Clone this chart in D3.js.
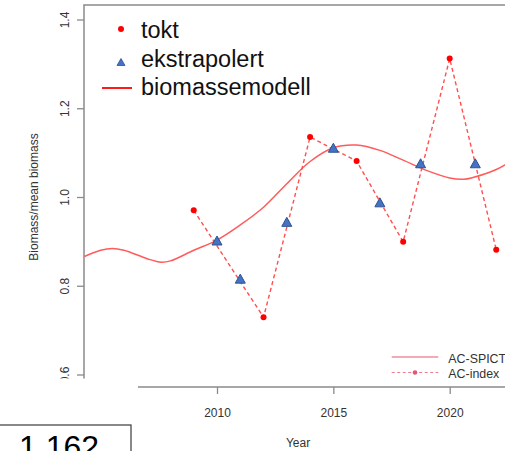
<!DOCTYPE html>
<html>
<head>
<meta charset="utf-8">
<script src="https://cdn.jsdelivr.net/npm/d3@7"></script>
<style>
  html, body { margin: 0; padding: 0; background: #fff; }
  svg { display: block; font-family: "Liberation Sans", Arial, sans-serif; }
</style>
</head>
<body>
<svg id="chart" width="505" height="451"></svg>
<script>
// Survey index (tokt), in-between years (ekstrapolert) and the smooth biomass model
const toktYears = [2009, 2012, 2014, 2016, 2018, 2020, 2022];
const toktValues = [0.970, 0.729, 1.135, 1.081, 0.899, 1.312, 0.881];

const extraYears = [2010, 2011, 2013, 2015, 2017, 2018.75, 2021.1];
const extraValues = [0.902, 0.816, 0.944, 1.111, 0.988, 1.076, 1.076];

const modelYears = [2004.3, 2005, 2005.5, 2006, 2007, 2007.6, 2008, 2009, 2010, 2011, 2012,
                    2013, 2014, 2015, 2016, 2017, 2018, 2019, 2020, 2020.6, 2021, 2022, 2022.6];
const modelValues = [0.866, 0.880, 0.884, 0.880, 0.861, 0.853, 0.856, 0.880, 0.903, 0.937, 0.977,
                     1.030, 1.080, 1.111, 1.117, 1.105, 1.083, 1.060, 1.043, 1.040, 1.044, 1.062, 1.080];

const xTicks = [2010, 2015, 2020];
const yTicks = [0.6, 0.8, 1.0, 1.2, 1.4];
const yTickLabels = ["0.6", "0.8", "1.0", "1.2", "1.4"];

const legendTop = ["tokt", "ekstrapolert", "biomassemodell"];
const legendBottom = ["AC-SPICT", "AC-index"];
const boxValue = "1.162";

const svg = d3.select("#chart");

// plot region
const plot = { left: 84, top: 5, right: 512, bottom: 387 };
const x = d3.scaleLinear().domain([2010, 2020]).range([217, 449.7]);
const y = d3.scaleLinear().domain([0.6, 1.4]).range([374.5, 19.5]);

const axisColor = "#8a8a8a";
const textColor = "#333";

svg.append("defs").append("clipPath").attr("id", "plotClip")
  .append("rect")
  .attr("x", plot.left).attr("y", plot.top)
  .attr("width", plot.right - plot.left).attr("height", plot.bottom - plot.top);

// box: top and left sides
svg.append("path")
  .attr("d", `M${plot.left},${plot.bottom}V${plot.top}H${plot.right}`)
  .attr("fill", "none").attr("stroke", axisColor).attr("stroke-width", 1.5);

// y axis ticks and rotated labels
const yAxis = svg.append("g").attr("transform", `translate(${plot.left},0)`)
  .call(d3.axisLeft(y).tickValues(yTicks).tickSize(7).tickSizeOuter(0)
    .tickFormat((d, i) => yTickLabels[i]));
yAxis.select(".domain").remove();
yAxis.selectAll(".tick line").attr("stroke", axisColor).attr("stroke-width", 1.3);
yAxis.selectAll(".tick text")
  .attr("fill", textColor).attr("font-size", 12)
  .attr("x", 0).attr("dy", 0)
  .attr("text-anchor", "middle")
  .attr("transform", "translate(-15.5,0) rotate(-90)")
  .attr("font-family", "Liberation Sans, Arial, sans-serif");

// x axis
const xAxis = svg.append("g").attr("transform", `translate(0,${plot.bottom})`)
  .call(d3.axisBottom(x).tickValues(xTicks).tickSize(7).tickSizeOuter(0).tickFormat(d3.format("d")));
xAxis.select(".domain")
  .attr("d", `M${plot.left},0H${plot.right}`)
  .attr("stroke", axisColor).attr("stroke-width", 1.5);
xAxis.selectAll(".tick line").attr("stroke", axisColor).attr("stroke-width", 1.3);
xAxis.selectAll(".tick text")
  .attr("fill", textColor).attr("font-size", 12)
  .attr("y", 0).attr("dy", 0)
  .attr("transform", "translate(0,29.5)")
  .attr("font-family", "Liberation Sans, Arial, sans-serif");

// axis titles
svg.append("text")
  .attr("x", (plot.left + plot.right) / 2).attr("y", 447)
  .attr("text-anchor", "middle").attr("font-size", 12).attr("fill", textColor)
  .text("Year");
svg.append("text")
  .attr("transform", `translate(37.5,${(plot.top + plot.bottom) / 2 + 1}) rotate(-90)`)
  .attr("text-anchor", "middle").attr("font-size", 12).attr("fill", textColor)
  .text("Biomass/mean biomass");

const marks = svg.append("g").attr("clip-path", "url(#plotClip)");

// biomass model curve
const model = modelYears.map((yr, i) => ({ yr, v: modelValues[i] }));
marks.append("path")
  .datum(model)
  .attr("fill", "none")
  .attr("stroke", "#ff5b5b")
  .attr("stroke-width", 1.5)
  .attr("d", d3.line().x(d => x(d.yr)).y(d => y(d.v)).curve(d3.curveCatmullRom));

// survey index dashed line
const tokt = toktYears.map((yr, i) => ({ yr, v: toktValues[i] }));
marks.append("path")
  .datum(tokt)
  .attr("fill", "none")
  .attr("stroke", "#ff4f4f")
  .attr("stroke-width", 1.4)
  .attr("stroke-dasharray", "4,3")
  .attr("d", d3.line().x(d => x(d.yr)).y(d => y(d.v)));

// survey points
marks.selectAll("circle.tokt")
  .data(tokt).join("circle")
  .attr("class", "tokt")
  .attr("cx", d => x(d.yr)).attr("cy", d => y(d.v))
  .attr("r", 3).attr("fill", "#ff0000");

// triangles for the in-between years
const tri = (cx, cy, w, h) => `M${cx - w / 2},${cy + h / 2}L${cx},${cy - h / 2}L${cx + w / 2},${cy + h / 2}Z`;
const extra = extraYears.map((yr, i) => ({ yr, v: extraValues[i] }));
marks.selectAll("path.extra")
  .data(extra).join("path")
  .attr("class", "extra")
  .attr("d", d => tri(x(d.yr), y(d.v), 10, 9))
  .attr("fill", "#4472c4").attr("stroke", "#2f528f").attr("stroke-width", 1)
  .attr("stroke-linejoin", "round");

// top-left legend
const lg = svg.append("g");
const rowY = [37.5, 66.5, 95];
lg.append("circle").attr("cx", 121).attr("cy", 29).attr("r", 3).attr("fill", "#ff0000");
lg.append("path").attr("d", tri(121, 62, 8, 7))
  .attr("fill", "#4472c4").attr("stroke", "#2f528f").attr("stroke-width", 0.8);
lg.append("line").attr("x1", 102).attr("x2", 132).attr("y1", 88).attr("y2", 88)
  .attr("stroke", "#ff1a1a").attr("stroke-width", 2);
lg.selectAll("text").data(legendTop).join("text")
  .attr("x", 141).attr("y", (d, i) => rowY[i])
  .attr("font-size", 23.5).attr("fill", "#111")
  .text(d => d);

// bottom-right legend
const lb = svg.append("g");
const legCol = "#e3566f";
lb.append("line").attr("x1", 391.7).attr("x2", 438.3).attr("y1", 357).attr("y2", 357)
  .attr("stroke", legCol).attr("stroke-width", 1);
lb.append("line").attr("x1", 391.7).attr("x2", 438.3).attr("y1", 372.5).attr("y2", 372.5)
  .attr("stroke", "#ec7d90").attr("stroke-width", 1).attr("stroke-dasharray", "3,2.5");
lb.append("circle").attr("cx", 415).attr("cy", 372.5).attr("r", 2.3).attr("fill", legCol);
lb.selectAll("text").data(legendBottom).join("text")
  .attr("x", 448.3).attr("y", (d, i) => [362.8, 378.2][i])
  .attr("font-size", 12.4).attr("fill", textColor)
  .text(d => d);

// cover for the lower-left corner and the value box
svg.append("rect").attr("x", 0).attr("y", 378.5).attr("width", 138).attr("height", 80).attr("fill", "#fff");
svg.append("rect").attr("x", -2).attr("y", 425).attr("width", 133).attr("height", 40)
  .attr("fill", "#fff").attr("stroke", "#3a3a3a").attr("stroke-width", 1.2);
svg.append("text").attr("x", 19).attr("y", 458)
  .attr("font-size", 32).attr("fill", "#000")
  .text(boxValue);
</script>
</body>
</html>
